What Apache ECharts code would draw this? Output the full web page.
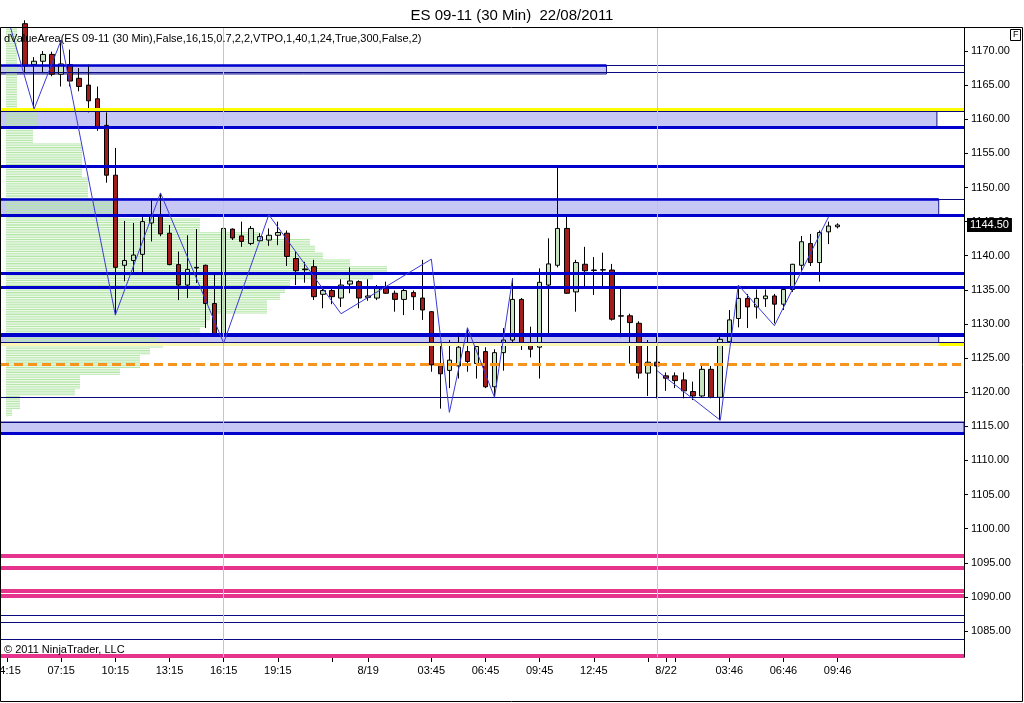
<!DOCTYPE html>
<html>
<head>
<meta charset="utf-8">
<script src="https://cdn.jsdelivr.net/npm/echarts@6/dist/echarts.min.js"></script>
<style>
html, body { margin: 0; padding: 0; background: #fff; }
#chart { width: 1024px; height: 703px; }
</style>
</head>
<body>
<div id="chart"></div>
<script>
// one label per 30 min bar
const times = [
  '04:15','04:45','05:15','05:45','06:15','06:45','07:15','07:45','08:15','08:45',
  '09:15','09:45','10:15','10:45','11:15','11:45','12:15','12:45','13:15','13:45',
  '14:15','14:45','15:15','15:45','16:15','16:45','17:15','17:45','18:15','18:45',
  '19:15','19:45','20:15','20:45','21:15','21:45','22:15','22:45','23:15','23:45',
  '8/19','00:45','01:15','01:45','02:15','02:45','03:15','03:45','04:15','04:45',
  '05:15','05:45','06:15','06:45','07:15','07:45','08:15','08:45','09:15','09:45',
  '10:15','10:45','11:15','11:45','12:15','12:45','13:15','13:45','14:15','14:45',
  '15:15','15:45','16:15','8/22','00:46','01:16','01:46','02:16','02:46','03:16',
  '03:46','04:16','04:46','05:16','05:46','06:16','06:46','07:16','07:46','08:16',
  '08:46','09:16','09:46'
];
const firstBar = 2;
const opens = [
  1174.0,1168.0,1168.5,1169.5,1166.6,1168.0,1166.0,1165.0,1163.0,1159.1,
  1151.8,1138.6,1139.3,1140.2,1144.8,1146.0,1143.3,1138.7,1135.7,1138.2,
  1138.6,1133.0,1128.6,1143.9,1142.9,1141.8,1142.2,1142.3,1143.0,1143.3,
  1139.6,1138.05,1138.4,1134.35,1134.9,1133.8,1135.85,1136.2,1133.9,1133.8,
  1135.4,1134.5,1133.6,1134.6,1133.8,1131.8,1124.1,1123.2,1123.85,1125.95,
  1124.2,1125.95,1120.8,1125.8,1127.65,1133.6,1127.2,1126.6,1135.7,1138.6,
  1144.0,1134.7,1138.75,1137.9,1137.95,1137.9,1131.2,1131.2,1130.1,1122.8,
  1124.4,1122.4,1122.4,1121.8,1120.1,1119.45,1123.35,1119.25,1127.4,1130.8,
  1133.75,1132.5,1133.7,1134.1,1132.9,1135.05,1138.6,1141.8,1139.0,1143.5,
  1144.25
];
const closes = [
  1167.8,1168.5,1169.5,1166.6,1168.1,1165.6,1164.8,1162.7,1158.8,1151.8,
  1138.3,1139.3,1140.1,1145.0,1145.8,1143.2,1138.7,1135.7,1138.0,1138.3,
  1133.0,1128.6,1144.0,1142.6,1142.1,1144.0,1142.8,1143.0,1143.4,1139.9,
  1137.8,1137.95,1134.0,1134.9,1134.0,1135.7,1136.3,1133.8,1134.1,1135.2,
  1134.5,1133.6,1134.9,1134.0,1132.05,1124.0,1122.7,1124.7,1126.6,1124.5,
  1126.7,1120.8,1125.8,1127.65,1133.6,1126.9,1126.3,1136.1,1138.8,1144.0,
  1134.5,1139.0,1137.8,1137.85,1137.9,1130.7,1131.15,1130.2,1122.8,1124.4,
  1123.85,1122.05,1121.7,1120.2,1119.45,1123.35,1119.25,1127.75,1130.6,1133.75,
  1132.5,1133.75,1134.1,1132.9,1135.05,1138.75,1142.05,1139.0,1143.4,1144.35,
  1144.5
];
const lows = [
  1166.9,1161.5,1166.8,1166.3,1164.8,1164.8,1164.1,1161.0,1158.3,1150.7,
  1131.3,1136.25,1137.2,1137.6,1142.1,1142.85,1138.6,1133.5,1133.8,1136.0,
  1129.4,1128.5,1127.25,1142.3,1141.3,1141.55,1142.05,1141.45,1141.55,1138.5,
  1135.7,1136.05,1133.5,1132.3,1132.9,1132.5,1134.5,1132.3,1133.4,1133.5,
  1134.4,1131.8,1131.3,1132.05,1130.6,1123.0,1117.6,1120.6,1122.0,1123.0,
  1122.0,1120.6,1119.25,1123.15,1127.1,1126.2,1125.1,1122.0,1128.5,1138.3,
  1134.4,1131.8,1135.5,1134.25,1135.55,1130.5,1128.05,1124.2,1122.0,1119.45,
  1119.1,1120.2,1120.6,1119.1,1118.85,1119.3,1119.1,1115.9,1127.2,1129.5,
  1129.4,1130.8,1132.5,1130.1,1132.05,1134.7,1137.8,1138.5,1136.2,1141.7,
  1144.0
];
const highs = [
  1174.5,1169.1,1170.0,1169.9,1171.6,1170.2,1167.5,1168.0,1164.8,1161.0,
  1155.8,1145.1,1144.8,1145.8,1148.2,1149.2,1144.5,1140.6,1143.0,1143.9,
  1138.7,1137.2,1144.1,1144.0,1145.0,1144.35,1143.3,1144.0,1145.0,1143.7,
  1140.6,1139.1,1139.4,1135.2,1135.4,1136.55,1138.3,1136.4,1136.55,1135.7,
  1136.2,1134.9,1135.2,1134.9,1139.4,1131.9,1127.4,1127.65,1128.7,1129.4,
  1127.3,1126.6,1126.3,1129.4,1136.7,1133.8,1129.6,1138.15,1142.55,1152.95,
  1145.8,1139.4,1141.3,1139.8,1140.45,1138.8,1135.2,1131.5,1130.4,1127.65,
  1128.1,1122.9,1122.9,1122.9,1121.55,1123.85,1123.85,1128.1,1132.05,1135.7,
  1134.4,1135.05,1135.05,1134.4,1135.3,1138.8,1142.9,1143.2,1143.7,1145.0,
  1144.75
];

// zigzag swing points (two legs, broken over the weekend)
const zigIdxA = [0, 3, 6, 12, 17, 24, 29, 37, 47, 49, 51, 54, 56];
const zigPxA = [1175.2, 1161.5, 1171.6, 1131.3, 1149.2, 1127.2, 1146.0, 1131.5, 1139.5, 1117.05, 1129.45, 1119.25, 1136.7];
const zigIdxB = [72, 79, 81, 85, 91];
const zigPxB = [1123.15, 1115.9, 1135.7, 1129.75, 1145.7];

// volume profile, one value per price point
const profilePrice = [
  1173,1172,1171,1170,1169,1168,1167,1166,1165,1164,1163,1162,1161,1160,1159,1158,1157,1156,1155,
  1154,1153,1152,1151,1150,1149,1148,1147,1146,1145,1144,1143,1142,1141,1140,1139,1138,1137,1136,
  1135,1134,1133,1132,1131,1130,1129,1128,1127,1126,1125,1124,1123,1122,1121,1120,1119,1118,1117
];
const profileVol = [
  11,11,11,11,11,11,11,11,11,11,11,11,32,32,32,27,27,76,76,
  76,76,76,82,82,82,107,107,107,194,194,254,304,309,317,344,381,367,284,
  279,274,261,261,204,199,194,151,157,144,134,134,114,74,74,69,14,14,6
];

// price levels drawn across the chart
const thickBlue = [1158.86, 1153.15, 1145.97, 1137.42, 1135.37, 1113.98];
const pocLine = 1128.46;
const navyLines = [1167.85, 1166.92, 1161.13, 1148.31, 1127.28, 1119.25, 1115.63, 1087.31, 1086.28, 1083.83];
const yellowLines = [1161.5];
const lowYellow = 1127.0;
const orangeLines = [1124.09];
const pinkLines = [1096.0, 1094.34, 1090.97, 1090.24, 1081.35];
const zoneLo = [1166.63, 1158.86, 1145.97, 1127.28, 1113.98];
const zoneHi = [1167.85, 1161.13, 1148.31, 1128.46, 1115.63];
const zoneEnd = [66.4, 103.0, 103.2, 103.2, null];
const sessionBreaks = [24, 72];
const labelBars = [0, 6, 12, 18, 24, 30, 40, 47, 53, 59, 65, 73, 80, 86, 92];
const tickBars = [0, 6, 12, 18, 24, 30, 36, 40, 47, 53, 59, 65, 71, 73, 74, 80, 86, 92];
const yTicks = [1085, 1090, 1095, 1100, 1105, 1110, 1115, 1120, 1125, 1130, 1135, 1140, 1145, 1150, 1155, 1160, 1165, 1170];
const lastPrice = 1144.5;

const X_MIN = -0.775, X_MAX = 106;

const candleData = opens.map((o, i) => [firstBar + i, o, closes[i], lows[i], highs[i]]);
const profileData = profilePrice.map((p, i) => [p, profileVol[i]]);

const lineMarks = [];
thickBlue.forEach(v => lineMarks.push({ yAxis: v, lineStyle: { color: '#0000cd', width: 3, type: 'solid' } }));
lineMarks.push({ yAxis: pocLine, lineStyle: { color: '#0000cd', width: 4, type: 'solid' } });
navyLines.forEach(v => lineMarks.push({ yAxis: v, lineStyle: { color: '#0a0a80', width: 1, type: 'solid' } }));
yellowLines.forEach(v => lineMarks.push({ yAxis: v, lineStyle: { color: '#ffff00', width: 3, type: 'solid' } }));
// lower yellow line shows pale under the box, bright past it
lineMarks.push([
  { coord: [X_MIN, lowYellow], lineStyle: { color: '#fbf6b4', width: 3, type: 'solid' } },
  { coord: [zoneEnd[3], lowYellow] }
]);
lineMarks.push([
  { coord: [zoneEnd[3], lowYellow], lineStyle: { color: '#ffff00', width: 3, type: 'solid' } },
  { coord: [X_MAX, lowYellow] }
]);
orangeLines.forEach(v => lineMarks.push({ yAxis: v, lineStyle: { color: '#f7941d', width: 3, type: [9, 5] } }));
pinkLines.forEach(v => lineMarks.push({ yAxis: v, lineStyle: { color: '#e6338e', width: 4, type: 'solid' } }));
sessionBreaks.forEach(v => lineMarks.push({ xAxis: v, lineStyle: { color: '#c4c4cc', width: 1, type: 'solid' } }));
// thicker top edges inside two of the boxes
[0, 2].forEach(k => lineMarks.push([
  { coord: [X_MIN, zoneHi[k]], lineStyle: { color: '#0000cd', width: 2.5, type: 'solid' } },
  { coord: [zoneEnd[k], zoneHi[k]] }
]));

const areaMarks = zoneLo.map((lo, k) => [
  { coord: [X_MIN, zoneHi[k]] },
  { coord: [zoneEnd[k] == null ? X_MAX : zoneEnd[k], lo] }
]);

const chart = echarts.init(document.getElementById('chart'));
chart.setOption({
  animation: false,
  backgroundColor: '#fff',
  textStyle: { fontFamily: 'Liberation Sans, Arial, sans-serif' },
  title: {
    text: 'ES 09-11 (30 Min)  22/08/2011',
    left: 'center', top: 3,
    textStyle: { fontSize: 15, fontWeight: 'normal', color: '#000' }
  },
  grid: { left: 0, right: 60, top: 28, bottom: 46, outerBoundsMode: 'none', containLabel: false },
  xAxis: [{
    type: 'value', min: X_MIN, max: X_MAX, position: 'bottom',
    splitLine: { show: false },
    axisLine: { onZero: false, lineStyle: { color: '#000' } },
    axisTick: { customValues: tickBars, length: 5, lineStyle: { color: '#000' } },
    axisLabel: {
      customValues: labelBars, formatter: v => times[v],
      fontSize: 11, color: '#000', margin: 8
    }
  }, {
    type: 'value', min: -6, max: 958, show: false,
    axisLine: { onZero: false }
  }],
  yAxis: {
    type: 'value', position: 'right', min: 1081.2, max: 1173.37,
    splitLine: { show: false },
    axisLine: { show: true, onZero: false, lineStyle: { color: '#000' } },
    axisTick: { show: true, customValues: yTicks, length: 4, lineStyle: { color: '#000' } },
    axisLabel: { customValues: yTicks, formatter: v => v.toFixed(2), fontSize: 11, color: '#000', margin: 7 }
  },
  series: [
    {
      type: 'custom', name: 'profile', xAxisIndex: 1, yAxisIndex: 0, z: 1, silent: true,
      data: profileData,
      renderItem: function (params, api) {
        const p = api.value(0), v = api.value(1);
        const kids = [];
        [-0.375, -0.125, 0.125, 0.375].forEach(off => {
          const a = api.coord([0, p + off]);
          const b = api.coord([v, p + off]);
          kids.push({ type: 'rect', shape: { x: a[0], y: a[1] - 0.5, width: b[0] - a[0], height: 1 }, style: { fill: '#b4e6a8' } });
        });
        return { type: 'group', children: kids };
      }
    },
    {
      type: 'line', name: 'zones', data: [], z: 2, silent: true,
      markArea: {
        silent: true,
        itemStyle: { color: 'rgba(130,130,235,0.45)', borderColor: '#14148a', borderWidth: 1 },
        data: areaMarks
      }
    },
    {
      type: 'line', name: 'levels', data: [], z: 3, silent: true,
      markLine: { silent: true, symbol: 'none', label: { show: false }, data: lineMarks }
    },
    {
      type: 'candlestick', name: 'ES', z: 4, barWidth: 5, clip: true,
      data: candleData,
      itemStyle: { color: '#c6e4c0', color0: '#a31c1c', borderColor: '#000', borderColor0: '#000', borderWidth: 1 },
      markLine: {
        silent: true, symbol: 'none',
        lineStyle: { color: 'rgba(0,0,0,0)', width: 0 },
        label: {
          show: true, position: 'end', formatter: lastPrice.toFixed(2),
          backgroundColor: '#000', color: '#fff', fontSize: 11, padding: [2, 3, 1, 3], distance: 3
        },
        data: [{ yAxis: lastPrice }]
      }
    },
    {
      type: 'line', name: 'zigzag A', z: 5, silent: true, symbol: 'none',
      data: zigIdxA.map((x, i) => [x, zigPxA[i]]),
      lineStyle: { color: '#3a3ad6', width: 1 }
    },
    {
      type: 'line', name: 'zigzag B', z: 5, silent: true, symbol: 'none',
      data: zigIdxB.map((x, i) => [x, zigPxB[i]]),
      lineStyle: { color: '#3a3ad6', width: 1 }
    }
  ],
  graphic: [
    { type: 'rect', silent: true, z: 100, shape: { x: 0.5, y: 27.5, width: 1022, height: 674 }, style: { fill: 'none', stroke: '#000', lineWidth: 1 } },
    { type: 'rect', silent: true, z: 100, shape: { x: 1010.5, y: 29.5, width: 10, height: 11 }, style: { fill: '#fff', stroke: '#000', lineWidth: 1 } },
    { type: 'text', silent: true, z: 101, left: 1013, top: 30, style: { text: 'F', fontSize: 9, fill: '#000', font: '9px Liberation Sans' } },
    { type: 'text', silent: true, z: 101, left: 4, top: 33, style: { text: 'dValueArea(ES 09-11 (30 Min),False,16,15,0.7,2,2,VTPO,1,40,1,24,True,300,False,2)', fill: '#000', font: '11px Liberation Sans, Arial' } },
    { type: 'text', silent: true, z: 101, left: 4, top: 644, style: { text: '\u00a9 2011 NinjaTrader, LLC', fill: '#000', font: '11px Liberation Sans, Arial' } }
  ]
});
</script>
</body>
</html>
